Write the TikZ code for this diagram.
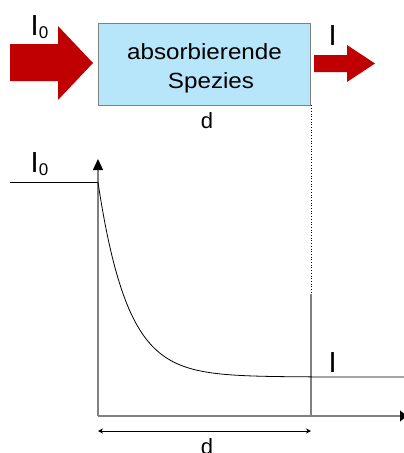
\documentclass[tikz,border=0pt]{standalone}
\usepackage{fontspec}
\setmainfont{Liberation Sans}
\usetikzlibrary{arrows.meta}
\definecolor{arrowred}{HTML}{C00000}
\definecolor{boxblue}{HTML}{B7E6FA}
\definecolor{axisgray}{HTML}{808080}
\tikzset{
  boxtext/.style={font=\fontsize{22}{26}\selectfont, inner sep=0pt, anchor=base},
  biglabel/.style={font=\fontsize{29}{32}\selectfont, inner sep=0pt},
  dlabel/.style={font=\fontsize{22}{26}\selectfont, inner sep=0pt},
  axis/.style={draw=axisgray, line width=1.3pt},
  thin line/.style={draw=black, line width=0.8pt},
}
\begin{document}
\begin{tikzpicture}[x=1pt,y=-1pt]
\useasboundingbox (0,0) rectangle (404,453);
% top arrows
\fill[arrowred] (10,44) -- (58,44) -- (58,26) -- (93,63) -- (58,100) -- (58,81) -- (10,81) -- cycle;
\fill[arrowred] (314,55) -- (347,55) -- (347,45) -- (375,63.5) -- (347,82) -- (347,72) -- (314,72) -- cycle;
% box
\node[draw=axisgray, fill=boxblue, line width=0.9pt, minimum width=212pt, minimum height=82pt, inner sep=0pt] (box) at (204.5,64) {};
\node[boxtext] (t1) at (204.5,59) {\scalebox{1.1}[1]{absorbierende}};
\node[boxtext] (t2) at (211,88) {\scalebox{1.1}[1]{Spezies}};
\node[dlabel] (dtop) at (207,121) {d};
\node[biglabel, anchor=base west] (i0top) at (30.5,35) {I\textsubscript{\fontsize{17}{18}\selectfont 0}};
\node[biglabel, anchor=base west] (itop) at (328.5,45) {I};
% dotted line
\coordinate (dotend) at (box.south east |- 0,292);
\draw[dotted, line width=0.7pt] (box.south east) -- (dotend);
% graph
\coordinate (origin) at (98,416);
\coordinate (ytop) at (98,159);
\coordinate (xend) at (407,416);
\coordinate (dstart) at (98,182.5);
\coordinate (i0left) at (10,182.5);
\coordinate (vtop) at (311,294);
\coordinate (vbot) at (311,416);
\coordinate (curveend) at (311,377);
\coordinate (iright) at (404,377);
\draw[axis, -{Triangle[length=11pt,width=10pt,color=black]}] (origin) -- (ytop);
\draw[axis, -{Triangle[length=7pt,width=11pt,color=black]}] (origin) -- (xend);
\draw[axis] (vtop) -- (vbot);
\draw[thin line] (i0left) -- (dstart);
\draw[thin line] (dstart) -- plot[domain=98:311, samples=120] (\x, {377-194.5*exp(-(\x-98)/29.5)}) -- (curveend) -- (iright);
\node[biglabel, anchor=base west] (i0bot) at (30.5,172) {I\textsubscript{\fontsize{17}{18}\selectfont 0}};
\node[biglabel, anchor=base west] (ibot) at (328.5,372) {I};
% d arrow
\coordinate (da) at (98,431);
\coordinate (db) at (311,431);
\draw[thin line, {Stealth[length=5pt,width=5pt]}-{Stealth[length=5pt,width=5pt]}] (da) -- (db);
\node[dlabel] (dbot) at (207,447) {d};
\end{tikzpicture}
\end{document}
